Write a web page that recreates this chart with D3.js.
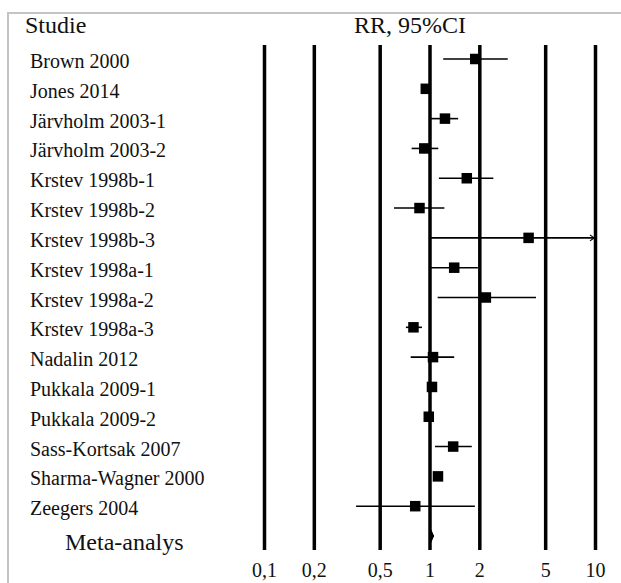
<!DOCTYPE html>
<html>
<head>
<meta charset="utf-8">
<script src="https://cdn.jsdelivr.net/npm/d3@7"></script>
<style>
  html, body { margin: 0; padding: 0; background: #fff; }
  svg { display: block; }
  text { font-family: "Liberation Serif", "Times New Roman", serif; fill: #111; }
</style>
</head>
<body>
<svg id="chart" width="621" height="583"></svg>
<script>
// Studies in the forest plot, top to bottom
const studies = [
  "Brown 2000", "Jones 2014", "Järvholm 2003-1", "Järvholm 2003-2",
  "Krstev 1998b-1", "Krstev 1998b-2", "Krstev 1998b-3", "Krstev 1998a-1",
  "Krstev 1998a-2", "Krstev 1998a-3", "Nadalin 2012", "Pukkala 2009-1",
  "Pukkala 2009-2", "Sass-Kortsak 2007", "Sharma-Wagner 2000", "Zeegers 2004"
];
// Relative risk point estimates and 95% confidence limits
const rr    = [1.89, 0.95, 1.24, 0.93, 1.68, 0.87, 3.97, 1.41, 2.19, 0.80, 1.05, 1.035, 0.99, 1.39, 1.125, 0.82];
const lower = [1.21, 0.93, 1.02, 0.78, 1.14, 0.61, 1.02, 1.02, 1.12, 0.72, 0.77, 1.01, 0.97, 1.08, 1.10, 0.36];
const upper = [2.97, 0.97, 1.49, 1.13, 2.43, 1.23, 15.0, 1.96, 4.40, 0.90, 1.41, 1.06, 1.01, 1.80, 1.15, 1.88];

// Pooled estimate
const metaLabel = "Meta-analys";
const metaRR = 1.02, metaLower = 1.00, metaUpper = 1.06;

// Axis ticks
const tickValues = [0.1, 0.2, 0.5, 1, 2, 5, 10];
const tickLabels = ["0,1", "0,2", "0,5", "1", "2", "5", "10"];

const svg = d3.select("#chart");

// Light grey frame around the table
svg.append("path")
  .attr("d", "M8,640 L8,13 L640,13")
  .attr("fill", "none")
  .attr("stroke", "#c4c4c4")
  .attr("stroke-width", 2);

const x = d3.scaleLog().domain([0.1, 10]).range([264, 595]);
const rows = studies.concat([metaLabel]);
const y = d3.scalePoint().domain(rows).range([59, 536]);

const gridTop = 45, gridBottom = 550;

// Reference lines with tick labels below
const axis = d3.axisBottom(x)
  .tickValues(tickValues)
  .tickFormat((d, i) => tickLabels[i])
  .tickSizeInner(-(gridBottom - gridTop))
  .tickSizeOuter(0);

const gAxis = svg.append("g")
  .attr("transform", `translate(0,${gridBottom})`)
  .call(axis);
gAxis.select(".domain").remove();
gAxis.selectAll(".tick line")
  .attr("stroke", "#000")
  .attr("stroke-width", 3.5);
gAxis.selectAll(".tick text")
  .attr("y", 27)
  .attr("dy", 0)
  .style("font-family", "'Liberation Serif', serif")
  .style("font-size", "20px")
  .attr("fill", "#111");

// Column headers
svg.append("text")
  .attr("x", 25).attr("y", 33)
  .style("font-size", "24px")
  .text("Studie");
svg.append("text")
  .attr("x", 410).attr("y", 33)
  .attr("text-anchor", "middle")
  .style("font-size", "24px")
  .text("RR, 95%CI");

// Study labels
svg.append("g").selectAll("text")
  .data(studies)
  .join("text")
  .attr("x", 30)
  .attr("y", d => y(d) + 9)
  .style("font-size", "20px")
  .text(d => d);

svg.append("text")
  .attr("x", 65).attr("y", y(metaLabel) + 14)
  .style("font-size", "24px")
  .text(metaLabel);

// Confidence intervals and point estimates
const data = studies.map((s, i) => ({ s, rr: rr[i], lo: lower[i], hi: upper[i] }));
const xMax = x.domain()[1];

const g = svg.append("g");
g.selectAll("line.ci")
  .data(data)
  .join("line")
  .attr("class", "ci")
  .attr("x1", d => x(d.lo))
  .attr("x2", d => x(Math.min(d.hi, xMax)))
  .attr("y1", d => y(d.s))
  .attr("y2", d => y(d.s))
  .attr("stroke", "#000")
  .attr("stroke-width", 1.6);

// Arrow head where an interval runs past the axis
g.selectAll("path.arrow")
  .data(data.filter(d => d.hi > xMax))
  .join("path")
  .attr("class", "arrow")
  .attr("d", d => {
    const ax = x(xMax) - 1, ay = y(d.s);
    return `M${ax - 4},${ay - 3} L${ax},${ay} L${ax - 4},${ay + 3}`;
  })
  .attr("fill", "none")
  .attr("stroke", "#000")
  .attr("stroke-width", 1.2);

const sq = 10.5;
g.selectAll("rect.est")
  .data(data)
  .join("rect")
  .attr("class", "est")
  .attr("x", d => x(d.rr) - sq / 2)
  .attr("y", d => y(d.s) - sq / 2)
  .attr("width", sq)
  .attr("height", sq)
  .attr("fill", "#000");

// Pooled estimate diamond
const my = y(metaLabel);
svg.append("path")
  .attr("d", `M${x(metaLower)},${my} L${x(metaRR)},${my - 6} L${x(metaUpper)},${my} L${x(metaRR)},${my + 6} Z`)
  .attr("fill", "#000")
  .attr("stroke", "#000")
  .attr("stroke-width", 1);
</script>
</body>
</html>
